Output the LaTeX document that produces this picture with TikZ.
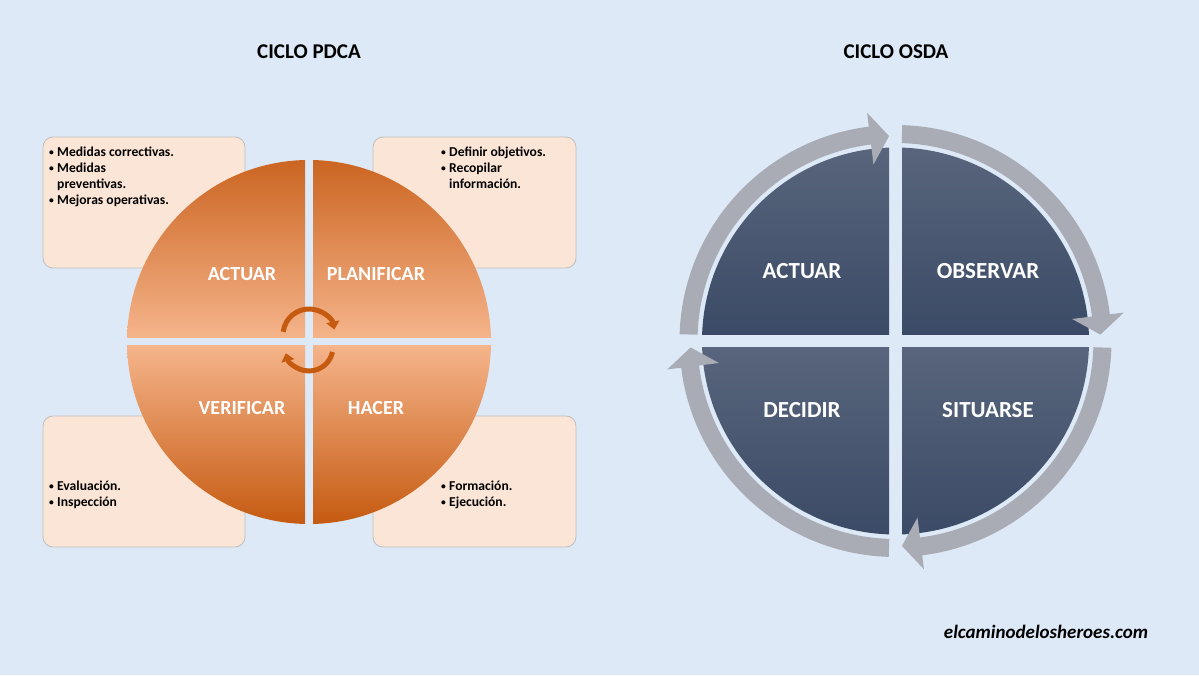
\documentclass[tikz,border=0pt]{standalone}
\usepackage{fontspec}
\setmainfont{Carlito}
\usetikzlibrary{arrows.meta}
\definecolor{bgcol}{HTML}{DDE9F6}
\definecolor{boxfill}{HTML}{FBE5D6}
\definecolor{boxline}{HTML}{BFBFBF}
\definecolor{ordark}{HTML}{C55A11}
\definecolor{ortop}{HTML}{CB6522}
\definecolor{ormid}{HTML}{EE9E6A}
\definecolor{orlight}{HTML}{F5B48A}
\definecolor{navtop}{HTML}{58657C}
\definecolor{navbot}{HTML}{3B4A66}
\definecolor{ringcol}{HTML}{A9ACB4}
\newcommand{\bul}[1]{\par\hangindent=8pt\hangafter=1\noindent\makebox[8pt][l]{\raisebox{1.2pt}{\scalebox{0.7}{•}}}#1}
\tikzset{
  titletext/.style={font=\bfseries\fontsize{21}{24}\selectfont, text=black, inner sep=0pt},
  infobox/.style={draw=boxline, fill=boxfill, line width=0.8pt, rounded corners=10pt},
  boxtext/.style={anchor=base west, inner sep=0pt, font=\bfseries\fontsize{13.6}{15.8}\selectfont, text=black},
  pdcalabel/.style={font=\bfseries\fontsize{20}{24}\selectfont, text=white, inner sep=0pt},
  osdalabel/.style={font=\bfseries\fontsize{23}{26}\selectfont, text=white, inner sep=0pt},
  cyclearrow/.style={draw=ordark, line width=5pt, -{Triangle[width=13pt,length=8pt]}},
  ringseg/.style={fill=ringcol},
}
\begin{document}
\begin{tikzpicture}[x=1pt,y=1pt]
\useasboundingbox (0,0) rectangle (1199,675);
\fill[bgcol] (0,0) rectangle (1199,675);

% titles
\node[titletext] (t1) at (309,623) {CICLO PDCA};
\node[titletext] (t2) at (896,623) {CICLO OSDA};

% info boxes
\draw[infobox] (43,407) rectangle (245,538);
\draw[infobox] (373,407) rectangle (576,538);
\draw[infobox] (43,128) rectangle (245,259);
\draw[infobox] (373,128) rectangle (576,259);

\node[boxtext] (btl) at (49,518) {\parbox[t]{170pt}{\bul{Medidas correctivas.}\bul{Medidas\\preventivas.}\bul{Mejoras operativas.}}};
\node[boxtext] (btr) at (441,518) {\parbox[t]{130pt}{\bul{Definir objetivos.}\bul{Recopilar\\información.}}};
\node[boxtext] (bbl) at (49,184) {\parbox[t]{170pt}{\bul{Evaluación.}\bul{Inspección}}};
\node[boxtext] (bbr) at (441,184) {\parbox[t]{130pt}{\bul{Formación.}\bul{Ejecución.}}};

% PDCA circle
\begin{scope}[shift={(309,333)}]
  \begin{scope}
    \clip (0,0) circle (182);
    \shade[top color=ortop, middle color=ormid, bottom color=orlight] (-182,4) rectangle (-4,182);
    \shade[top color=ortop, middle color=ormid, bottom color=orlight] (4,4) rectangle (182,182);
    \shade[top color=orlight, middle color=ormid, bottom color=ordark] (-182,-182) rectangle (-4,-4);
    \shade[top color=orlight, middle color=ormid, bottom color=ordark] (4,-182) rectangle (182,-4);
  \end{scope}
  \draw[cyclearrow] (173:26) ++(0,7) arc[start angle=173, end angle=12, radius=26];
  \draw[cyclearrow] (-12:24) ++(0,-5) arc[start angle=-12, end angle=-165, radius=24];
\end{scope}
\node[pdcalabel] (pa) at (242,401) {ACTUAR};
\node[pdcalabel] (pp) at (376,401) {PLANIFICAR};
\node[pdcalabel] (pv) at (242,267) {VERIFICAR};
\node[pdcalabel] (ph) at (376,267) {HACER};

% OSDA circle
\begin{scope}[shift={(895.5,334)}]
  \begin{scope}
    \clip (0,0) circle (193.5);
    \shade[top color=navtop, bottom color=navbot] (-194,6.5) rectangle (-6.5,194);
    \shade[top color=navtop, bottom color=navbot] (6.5,6.5) rectangle (194,194);
    \shade[top color=navtop, bottom color=navbot] (-194,-194) rectangle (-6.5,-6.5);
    \shade[top color=navtop, bottom color=navbot] (6.5,-194) rectangle (194,-6.5);
  \end{scope}
  \foreach \r in {0,-90,-180,-270}{
    \begin{scope}[rotate=\r]
      \fill[ringseg] (178.2:216) arc[start angle=178.2, end angle=97.1, radius=216]
        -- (97.1:230) -- (91.8:205) -- (97.1:178) -- (97.1:198)
        arc[start angle=97.1, end angle=178.2, radius=198] -- cycle;
    \end{scope}
  }
\end{scope}
\node[osdalabel] (oa) at (802,404) {ACTUAR};
\node[osdalabel] (oo) at (988,404) {OBSERVAR};
\node[osdalabel] (od) at (802,265) {DECIDIR};
\node[osdalabel] (os) at (988,265) {SITUARSE};

% footer
\node[font=\bfseries\itshape\fontsize{19}{22}\selectfont, inner sep=0pt] (web) at (1046,43) {elcaminodelosheroes.com};
\end{tikzpicture}
\end{document}
